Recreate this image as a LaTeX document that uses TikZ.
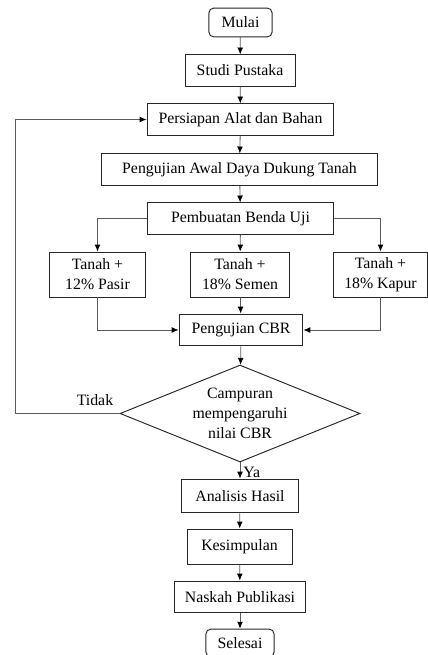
\documentclass[tikz,border=0pt]{standalone}
\usepackage{fontspec}
\setmainfont{Liberation Serif}
\usetikzlibrary{arrows.meta,positioning,shapes.geometric}
\definecolor{fline}{HTML}{5A5A5A}
\definecolor{fbox}{HTML}{262626}
\tikzset{
  procbox/.style={draw=fbox, line width=0.7pt, align=center, inner sep=1pt},
  termbox/.style={procbox, rounded corners=3.5pt},
  decbox/.style={draw=fbox, line width=0.7pt, diamond, aspect=2.5, align=center, inner sep=0pt},
  flow/.style={fline, line width=0.6pt, -{Latex[length=1.8mm,width=1.5mm,color=black]}},
}

\begin{document}
\begin{tikzpicture}[font=\fontsize{11.7}{14.8}\selectfont, x=0.026cm, y=-0.026cm]
\useasboundingbox (0,0) rectangle (427,655);
% ---------------- preparation ----------------
\node[termbox, minimum width=1.64cm, minimum height=0.75cm] (mulai) at (240.5,22.5) {Mulai};
\node[procbox, minimum width=2.86cm, minimum height=0.81cm] (studi) at (240,70.5) {Studi Pustaka};
\node[procbox, minimum width=4.86cm, minimum height=0.81cm] (alat) at (240.5,119.5) {Persiapan Alat dan Bahan};
\node[procbox, minimum width=7.2cm, minimum height=0.81cm] (awal) at (239.5,169.5) {Pengujian Awal Daya Dukung Tanah};
\node[procbox, minimum width=4.86cm, minimum height=0.81cm] (buat) at (240.5,218.5) {Pembuatan Benda Uji};
% ---------------- test specimens ----------------
\node[procbox, minimum width=2.52cm, minimum height=1.17cm] (pasir) at (97.5,274.5) {Tanah +\\12\% Pasir};
\node[procbox, minimum width=2.55cm, minimum height=1.17cm] (semen) at (240,274.5) {Tanah +\\18\% Semen};
\node[procbox, minimum width=2.42cm, minimum height=1.17cm] (kapur) at (380.5,274.5) {Tanah +\\18\% Kapur};
\node[procbox, minimum width=3.22cm, minimum height=0.83cm] (cbr) at (241,330) {Pengujian CBR};
\node[decbox, minimum width=6.24cm, minimum height=2.52cm] (cek) at (240,413.5)
  {Campuran\\mempengaruhi\\nilai CBR};
% ---------------- results ----------------
\node[procbox, minimum width=3.02cm, minimum height=0.88cm] (hasil) at (240,496) {Analisis Hasil};
\node[procbox, minimum width=2.73cm, minimum height=0.91cm] (simpul) at (239.5,546.5) {Kesimpulan};
\node[procbox, minimum width=3.43cm, minimum height=0.83cm] (naskah) at (240,597) {Naskah Publikasi};
\node[termbox, minimum width=1.77cm, minimum height=0.72cm] (selesai) at (240,643) {Selesai};
% ---------------- connectors ----------------
\draw[flow] (mulai) -- (studi);
\draw[flow] (studi) -- (alat);
\draw[flow] (alat) -- (awal);
\draw[flow] (awal) -- (buat);
\draw[flow] (buat.west) -| (pasir.north);
\draw[flow] (buat) -- (semen);
\draw[flow] (buat.east) -| (kapur.north);
\draw[flow] (pasir.south) |- (cbr.west);
\draw[flow] (semen) -- (cbr);
\draw[flow] (kapur.south) |- (cbr.east);
\draw[flow] (cbr) -- (cek);
\draw[flow] (cek.west) -- ++(-104,0) |- (alat.west);
\node (tidak) at (95,400) {Tidak};
\draw[flow] (cek.south) -- (hasil.north);
\node[anchor=west, inner sep=0pt] (ya) at (243,472) {Ya};
\draw[flow] (hasil) -- (simpul);
\draw[flow] (simpul) -- (naskah);
\draw[flow] (naskah) -- (selesai);
\end{tikzpicture}
\end{document}
